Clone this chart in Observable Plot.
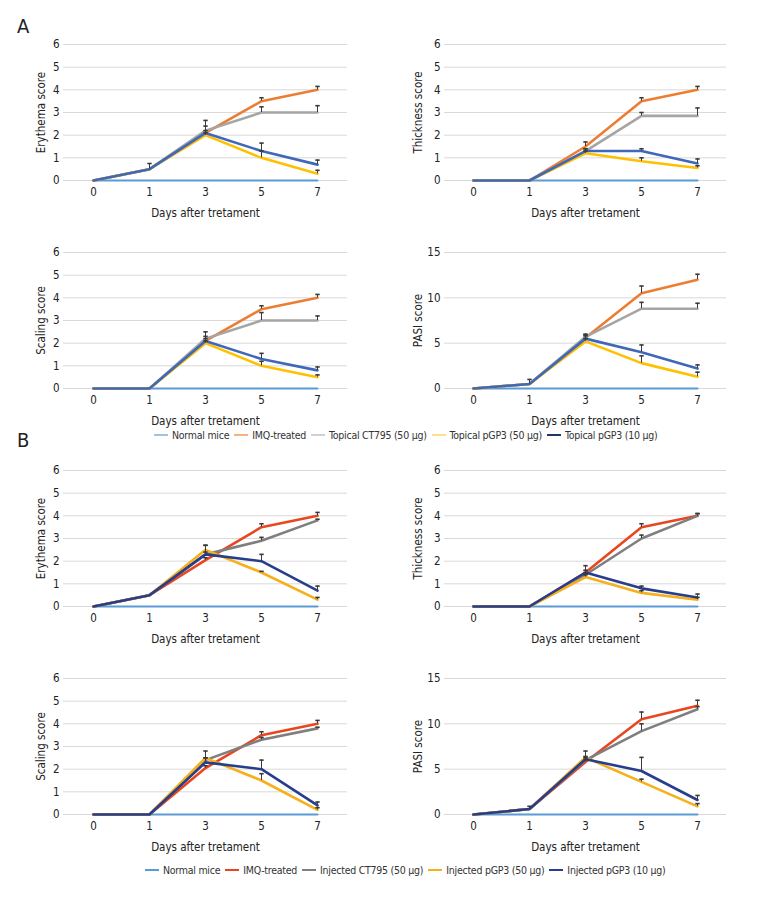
<!DOCTYPE html>
<html>
<head>
<meta charset="utf-8">
<script src="https://cdn.jsdelivr.net/npm/d3@7"></script>
<script src="https://cdn.jsdelivr.net/npm/@observablehq/plot@0.6"></script>
<style>
  html, body { margin: 0; padding: 0; background: #fff; }
  #root { position: relative; width: 768px; height: 912px; background: #fff;
    font-family: "DejaVu Sans Condensed", "DejaVu Sans", sans-serif; font-stretch: condensed; color: #222; }
  .panel { position: absolute; }
  .letter { position: absolute; font-size: 20px; }
  .legend { position: absolute; display: flex; align-items: center; white-space: nowrap; font-size: 10.5px; color: #333; letter-spacing: -0.25px; }
  .legend .item { display: flex; align-items: center; margin-right: 5px; }
  .legend .sw { width: 14px; height: 2px; margin-right: 4px; }
</style>
</head>
<body>
<div id="root"></div>
<script>
const days = [0, 1, 3, 5, 7];
const groupsA = ["Normal mice", "IMQ-treated", "Topical CT795 (50 µg)", "Topical pGP3 (50 µg)", "Topical pGP3 (10 µg)"];
const groupsB = ["Normal mice", "IMQ-treated", "Injected CT795 (50 µg)", "Injected pGP3 (50 µg)", "Injected pGP3 (10 µg)"];
const colorsA = ["#5B9BD5", "#ED7D31", "#A5A5A5", "#FFC000", "#3F68B8"];
const legendColorsA = ["#9DC3E6", "#F4B183", "#D0D0D0", "#FFE08A", "#1F3864"];
const colorsB = ["#5B9BD5", "#E8461E", "#7F7F7F", "#F5B01B", "#263E8C"];
const colorsBLegend = ["#5B9BD5", "#E8461E", "#7F7F7F", "#F5B01B", "#263E8C"];
const xTitle = "Days after tretament";

// Panel A values (rows follow the group order)
const A_ery = [[0,0,0,0,0],[0,0.5,2.1,3.5,4.0],[0,0.5,2.2,3.0,3.0],[0,0.5,2.0,1.0,0.3],[0,0.5,2.1,1.3,0.7]];
const A_ery_err = [[0,0,0,0,0],[0,0,0.1,0.15,0.15],[0,0,0.45,0.25,0.3],[0,0,0.1,0.3,0.15],[0,0.25,0.3,0.35,0.2]];
const A_thk = [[0,0,0,0,0],[0,0,1.5,3.5,4.0],[0,0,1.3,2.85,2.85],[0,0,1.2,0.85,0.55],[0,0,1.3,1.3,0.75]];
const A_thk_err = [[0,0,0,0,0],[0,0,0.2,0.15,0.15],[0,0,0.1,0.15,0.35],[0,0,0.1,0.15,0.1],[0,0,0.1,0.1,0.2]];
const A_scl = [[0,0,0,0,0],[0,0,2.1,3.5,4.0],[0,0,2.2,3.0,3.0],[0,0,2.0,1.0,0.5],[0,0,2.1,1.3,0.8]];
const A_scl_err = [[0,0,0,0,0],[0,0,0.1,0.15,0.15],[0,0,0.3,0.35,0.2],[0,0,0.1,0.2,0.1],[0,0,0.2,0.25,0.15]];
const A_pasi = [[0,0,0,0,0],[0,0.5,5.6,10.5,12.0],[0,0.5,5.7,8.8,8.8],[0,0.5,5.2,2.8,1.3],[0,0.5,5.5,4.0,2.2]];
const A_pasi_err = [[0,0,0,0,0],[0,0,0.3,0.8,0.6],[0,0,0.3,0.7,0.6],[0,0,0.3,0.8,0.5],[0,0.5,0.3,0.8,0.4]];

// Panel B values
const B_ery = [[0,0,0,0,0],[0,0.5,2.05,3.5,4.0],[0,0.5,2.3,2.9,3.8],[0,0.5,2.5,1.5,0.3],[0,0.5,2.3,2.0,0.7]];
const B_ery_err = [[0,0,0,0,0],[0,0,0.1,0.15,0.15],[0,0,0.1,0.15,0.05],[0,0,0.2,0.05,0.1],[0,0,0.4,0.3,0.2]];
const B_thk = [[0,0,0,0,0],[0,0,1.5,3.5,4.0],[0,0,1.4,3.0,4.0],[0,0,1.3,0.6,0.3],[0,0,1.5,0.8,0.4]];
const B_thk_err = [[0,0,0,0,0],[0,0,0.1,0.15,0.1],[0,0,0.1,0.15,0.1],[0,0,0.1,0.1,0.1],[0,0,0.3,0.1,0.15]];
const B_scl = [[0,0,0,0,0],[0,0,2.05,3.5,4.0],[0,0,2.4,3.3,3.8],[0,0,2.5,1.5,0.2],[0,0,2.3,2.0,0.4]];
const B_scl_err = [[0,0,0,0,0],[0,0,0.1,0.15,0.15],[0,0,0.1,0.1,0.05],[0,0,0.3,0.3,0.1],[0,0,0.2,0.4,0.15]];
const B_pasi = [[0,0,0,0,0],[0,0.6,5.8,10.5,12.0],[0,0.6,6.0,9.2,11.6],[0,0.6,6.3,3.6,0.9],[0,0.6,6.1,4.8,1.6]];
const B_pasi_err = [[0,0,0,0,0],[0,0,0.3,0.8,0.6],[0,0,0.3,0.8,0.3],[0,0,0.7,0.3,0.3],[0,0.3,0.3,1.5,0.5]];

const scoreTicks = [0,1,2,3,4,5,6];
const pasiTicks = [0,5,10,15];

const root = document.getElementById("root");
const FONT = '"DejaVu Sans Condensed", "DejaVu Sans", sans-serif';

const capSymbol = {
  draw(ctx, size) {
    const r = Math.sqrt(size / Math.PI);
    ctx.moveTo(-r, 0); ctx.lineTo(r, 0);
  }
};

function rows(groups, vals, errs) {
  const out = [];
  groups.forEach((g, i) => days.forEach((d, j) => out.push({group: g, gi: i, day: d, value: vals[i][j], err: errs[i][j]})));
  return out;
}

function panel(groups, colors, vals, errs, yTicks, yLabel, left, top, right) {
  const data = rows(groups, vals, errs);
  const errData = data.filter(d => d.err > 0);
  const ml = right ? 60 : 63, mr = right ? 42 : 37;
  const chart = Plot.plot({
    width: 384, height: 190,
    marginTop: 14, marginBottom: 40, marginLeft: ml, marginRight: mr,
    style: {fontFamily: FONT, fontStretch: "condensed", fontSize: "11px", color: "#222", background: "transparent"},
    x: {type: "point", domain: days, padding: 0.5},
    y: {domain: [yTicks[0], yTicks[yTicks.length - 1]]},
    color: {domain: groups, range: colors},
    marks: [
      Plot.gridY(yTicks, {stroke: "#d9d9d9", strokeOpacity: 1, strokeWidth: 1}),
      Plot.axisY({ticks: yTicks, tickFormat: d => String(d), tickSize: 0, tickPadding: 4, label: yLabel, labelAnchor: "center", labelOffset: right ? 31 : 27, labelArrow: "none", fontSize: 11.5}),
      Plot.axisX({ticks: days, tickFormat: d => String(d), tickSize: 0, tickPadding: 7, label: xTitle, labelAnchor: "center", labelOffset: 36, labelArrow: "none", fontSize: 11.5}),
      Plot.line(data.filter(d => d.gi === 0), {x: "day", y: "value", stroke: "group", strokeWidth: 2}),
      Plot.line(data.filter(d => d.gi > 0), {x: "day", y: "value", z: "group", stroke: "group", strokeWidth: 2.6, strokeLinejoin: "miter"}),
      Plot.ruleX(errData, {x: "day", y1: "value", y2: d => d.value + d.err, stroke: "#3a3a3a", strokeWidth: 1}),
      Plot.dot(errData, {x: "day", y: d => d.value + d.err, symbol: capSymbol, r: 2.2, stroke: "#3a3a3a", strokeWidth: 1.6, fill: "none"})
    ]
  });
  chart.classList.add("panel");
  chart.style.left = left + "px";
  chart.style.top = top + "px";
  root.appendChild(chart);
}

function legend(groups, colors, center, top) {
  const div = document.createElement("div");
  div.className = "legend";
  div.style.top = top + "px";
  groups.forEach((g, i) => {
    const it = document.createElement("div");
    it.className = "item";
    const sw = document.createElement("span");
    sw.className = "sw";
    sw.style.background = colors[i];
    const tx = document.createElement("span");
    tx.textContent = g;
    it.appendChild(sw); it.appendChild(tx);
    div.appendChild(it);
  });
  root.appendChild(div);
  const w = div.getBoundingClientRect().width;
  div.style.left = Math.round(center - w / 2) + "px";
}

function letter(t, left, top) {
  const d = document.createElement("div");
  d.className = "letter";
  d.textContent = t;
  d.style.left = left + "px";
  d.style.top = top + "px";
  root.appendChild(d);
}

letter("A", 17, 14);
panel(groupsA, colorsA, A_ery, A_ery_err, scoreTicks, "Erythema score", 0, 30, false);
panel(groupsA, colorsA, A_thk, A_thk_err, scoreTicks, "Thickness score", 384, 30, true);
panel(groupsA, colorsA, A_scl, A_scl_err, scoreTicks, "Scaling score", 0, 238, false);
panel(groupsA, colorsA, A_pasi, A_pasi_err, pasiTicks, "PASI score", 384, 238, true);
legend(groupsA, legendColorsA, 408, 429);

letter("B", 17, 428);
panel(groupsB, colorsB, B_ery, B_ery_err, scoreTicks, "Erythema score", 0, 456, false);
panel(groupsB, colorsB, B_thk, B_thk_err, scoreTicks, "Thickness score", 384, 456, true);
panel(groupsB, colorsB, B_scl, B_scl_err, scoreTicks, "Scaling score", 0, 664, false);
panel(groupsB, colorsB, B_pasi, B_pasi_err, pasiTicks, "PASI score", 384, 664, true);
legend(groupsB, colorsBLegend, 408, 864);
</script>
</body>
</html>
